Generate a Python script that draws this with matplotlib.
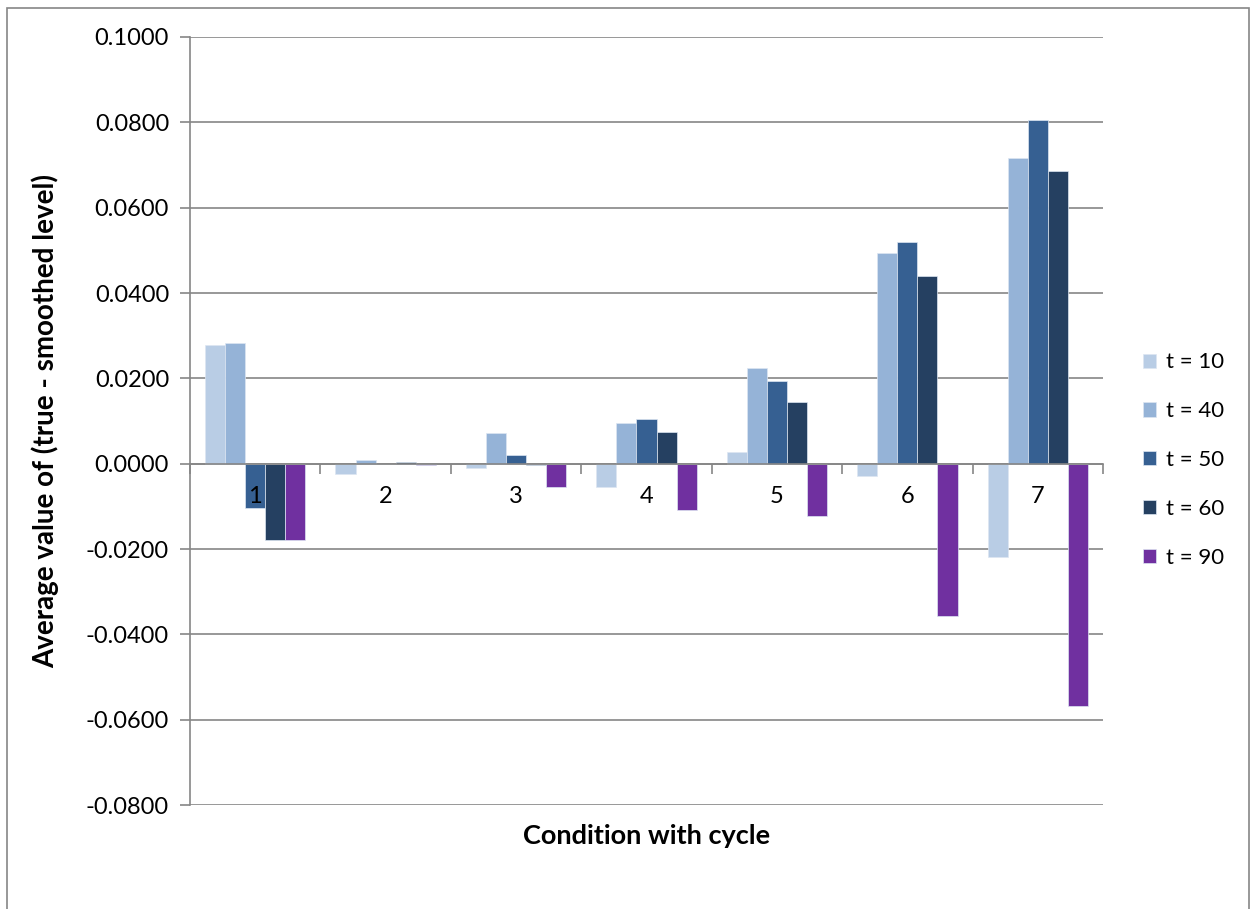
import numpy as np
import matplotlib.pyplot as plt
from matplotlib.patches import Rectangle
from matplotlib.transforms import offset_copy

plt.rcParams['font.family'] = ['Lato', 'DejaVu Sans']

# condiciones (1..7) y series por tiempo t
condiciones = ['1', '2', '3', '4', '5', '6', '7']
series = ['t = 10', 't = 40', 't = 50', 't = 60', 't = 90']
t10 = [0.0278, -0.0025, -0.0010, -0.0055, 0.0027, -0.0028, -0.0218]
t40 = [0.0283, 0.0009, 0.0072, 0.0095, 0.0224, 0.0494, 0.0716]
t50 = [-0.0103, 0.0000, 0.0020, 0.0104, 0.0194, 0.0520, 0.0805]
t60 = [-0.0178, 0.0003, -0.0003, 0.0074, 0.0145, 0.0440, 0.0686]
t90 = [-0.0178, -0.0004, -0.0055, -0.0108, -0.0122, -0.0358, -0.0567]
colores = ['#B9CDE5', '#95B3D7', '#366092', '#254061', '#7030A0']

valores = [t10, t40, t50, t60, t90]

fig = plt.figure(figsize=(12.53, 9.09), dpi=100)
ax = fig.add_axes([0.1516, 0.1144, 0.7287, 0.8449])

# marco exterior del grafico
fig.patches.append(Rectangle((0.0056, -0.01), 0.991, 1.001, transform=fig.transFigure,
                             fill=False, edgecolor='#868686', linewidth=1.2))

x = np.arange(len(condiciones))
ancho = 1 / 6.5
for i, (vals, nombre, c) in enumerate(zip(valores, series, colores)):
    ax.bar(x + (i - 2) * ancho, vals, ancho, color=c, label=nombre,
           edgecolor='#dde6f2', linewidth=0.5, zorder=3)

ax.set_xlim(-0.5, 6.5)
ax.set_ylim(-0.08, 0.1)
ax.set_yticks(np.arange(-0.08, 0.1001, 0.02))
ax.set_yticklabels(['%.4f' % v for v in np.arange(-0.08, 0.1001, 0.02)], fontsize=17)
ax.yaxis.grid(True, color='#868686', linewidth=1.2, zorder=0)
ax.tick_params(axis='y', length=7, color='#868686', width=1.2, pad=8)

# eje x sobre el cero
for s in ['top', 'right']:
    ax.spines[s].set_visible(False)
ax.spines['left'].set_color('#868686')
ax.spines['left'].set_linewidth(1.2)
ax.spines['bottom'].set_position(('data', 0))
ax.spines['bottom'].set_color('#868686')
ax.spines['bottom'].set_linewidth(1.2)
ax.spines['bottom'].set_zorder(4)

ax.set_xticks(np.arange(-0.5, 7, 1))
ax.set_xticklabels([])
ax.tick_params(axis='x', which='major', length=7, color='#868686', width=1.2)

# etiquetas de categoria encima de las barras
trans = offset_copy(ax.transData, fig=fig, x=0, y=-33, units='dots')
for xi, etiqueta in zip(x, condiciones):
    ax.text(xi, 0, etiqueta, transform=trans, ha='center', va='center', fontsize=17, zorder=6)

ax.set_ylabel('Average value of (true - smoothed level)', fontsize=20, fontweight='bold')
ax.yaxis.set_label_coords(-0.143, 0.5)
ax.text(0.5, -0.040, 'Condition with cycle', transform=ax.transAxes, ha='center', va='center',
        fontsize=19.5, fontweight='bold')

ax.legend(loc='center left', bbox_to_anchor=(1.022, 0.449), frameon=False, fontsize=16,
          handlelength=0.6, handleheight=0.6, labelspacing=1.3, handletextpad=0.45)

plt.savefig('out.png', dpi=100)
